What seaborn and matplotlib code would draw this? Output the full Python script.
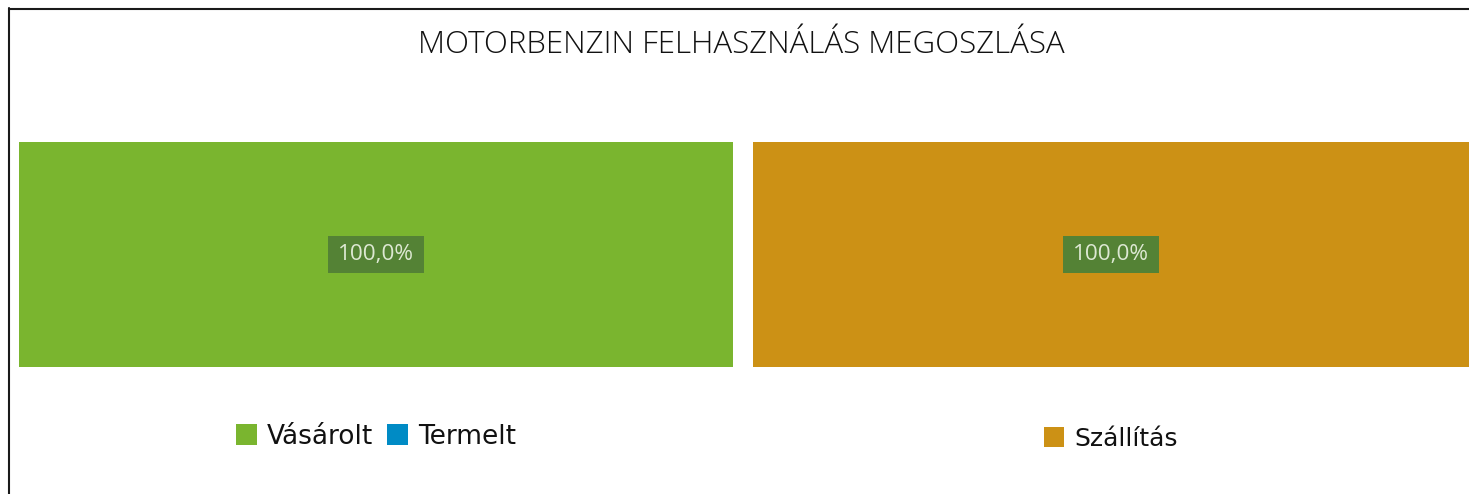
import matplotlib
matplotlib.use("Agg")
import matplotlib.pyplot as plt
import seaborn as sns
import pandas as pd
from matplotlib.patches import Rectangle
from matplotlib.lines import Line2D
from matplotlib.transforms import IdentityTransform

# ---- data ----
title = "MOTORBENZIN FELHASZNÁLÁS MEGOSZLÁSA"
left_series = ["Vásárolt", "Termelt"]
left_values = [100.0, 0.0]
left_colors = ["#7ab52f", "#008bc5"]
right_series = ["Szállítás"]
right_values = [100.0]
right_colors = ["#cc9115"]
category = ["Motorbenzin"]

sns.set_theme(style="white")
plt.rcParams['font.family'] = ['DejaVu Sans']

W, H = 1469, 494
fig = plt.figure(figsize=(W / 100, H / 100), dpi=100)
fig.patch.set_facecolor("white")

ax_l = fig.add_axes([19 / W, 1 - 367 / H, 714 / W, 225 / H])
ax_r = fig.add_axes([753 / W, 1 - 367 / H, 716 / W, 225 / H])


def stacked(ax, names, vals, colors, leg_fs, leg_y):
    # cumulative totals, drawn from the largest down (seaborn stacking trick)
    cum = []
    s = 0
    for v in vals:
        s += v
        cum.append(s)
    for i in reversed(range(len(names))):
        df = pd.DataFrame({"cat": category, "val": [cum[i]]})
        sns.barplot(data=df, x="val", y="cat", orient="h", color=colors[i],
                    width=1.0, saturation=1, ax=ax, label=names[i],
                    linewidth=0, edgecolor="none")
    ax.set_xlim(0, sum(vals))
    ax.set_ylim(0.5, -0.5)
    ax.axis("off")
    # data labels
    start = 0
    for v in vals:
        if v > 0:
            xc, yc = ax.transData.transform((start + v / 2, 0))
            bw, bh = 96, 37
            ax.add_patch(Rectangle((xc - bw / 2, yc - bh / 2), bw, bh,
                                   transform=IdentityTransform(),
                                   facecolor="#548235", edgecolor="none",
                                   zorder=5))
            ax.text(start + v / 2, 0, f"{v:.1f}%".replace(".", ","),
                    ha="center", va="center", color="#dde8d3",
                    fontsize=16.2, family=["Open Sans", "DejaVu Sans"],
                    zorder=6)
        start += v
    handles = [Rectangle((0, 0), 1, 1, facecolor=c, edgecolor="none")
               for c in colors]
    ax.legend(handles, names, loc="center", bbox_to_anchor=(0.5, leg_y),
              ncol=len(names), frameon=False, fontsize=leg_fs,
              handlelength=0.8, handleheight=0.85, handletextpad=0.4,
              columnspacing=0.5, labelcolor="#111111")


stacked(ax_l, left_series, left_values, left_colors, 19, -0.31)
stacked(ax_r, right_series, right_values, right_colors, 18, -0.32)

fig.text(741 / W, 1 - 45 / H, title, ha="center", va="center",
         fontsize=22.5, color="#111111", family=["Open Sans", "DejaVu Sans"],
         fontweight="light")

# chart frame
fig.add_artist(Line2D([8.5 / W, 1], [1 - 9 / H, 1 - 9 / H],
                      transform=fig.transFigure, color="#1a1a1a", lw=1.5))
fig.add_artist(Line2D([9 / W, 9 / W], [0, 1 - 8 / H],
                      transform=fig.transFigure, color="#1a1a1a", lw=1.5))

fig.savefig("out.png", dpi=100)
